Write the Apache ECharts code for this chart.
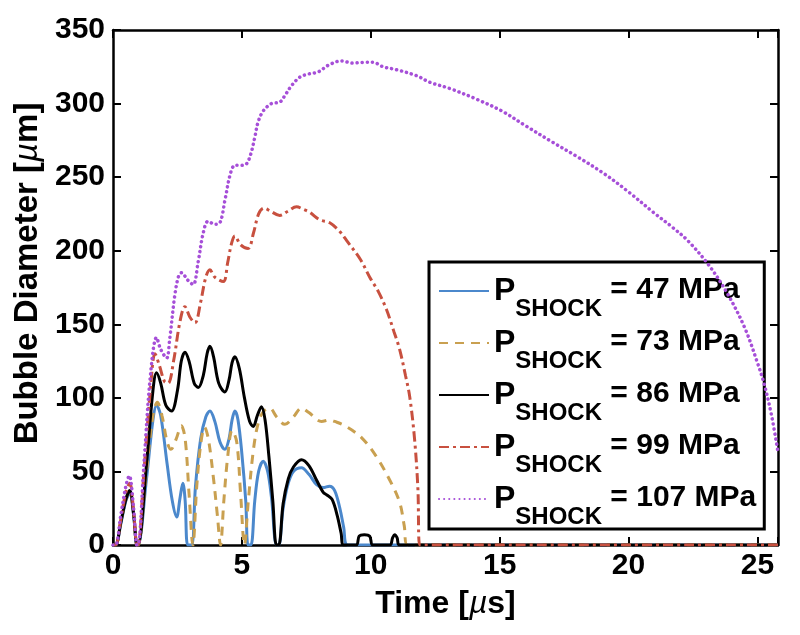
<!DOCTYPE html>
<html><head><meta charset="utf-8">
<script src="https://cdn.jsdelivr.net/npm/echarts@6/dist/echarts.min.js"></script>
<style>html,body{margin:0;padding:0;background:#fff}#c{width:800px;height:635px}</style>
</head><body><div id="c"></div>
<script>
// ---- data ----
const xTicks = [0, 5, 10, 15, 20, 25];
const yTicks = [0, 50, 100, 150, 200, 250, 300, 350];
const pressures = ['47', '73', '86', '99', '107'];

const t47 = [0,0.1,0.3,0.5,0.65,0.8,0.93,0.97,1.3,1.55,1.69,1.85,2.1,2.3,2.47,2.6,2.71,2.8,2.9,3.05,3.2,3.4,3.6,3.76,3.95,4.15,4.34,4.5,4.62,4.73,4.85,5.0,5.15,5.24,5.35,5.5,5.65,5.83,6.0,6.15,6.34,6.43,6.6,6.8,7.0,7.31,7.6,7.9,8.15,8.4,8.6,8.8,8.95,9.1,25.8];
const d47 = [0,0,14,30,35,20,0,0,45,85,95,88,55,30,19,32,42,30,0,0,40,72,87,91,84,70,65,72,85,91,85,62,30,0,0,30,50,57,50,32,0,0,25,42,50,52.5,48,41,39,40,37,25,12,0,0];

const t73 = [0,0.1,0.3,0.5,0.65,0.8,0.93,0.97,1.3,1.55,1.72,1.9,2.1,2.25,2.45,2.65,2.8,2.95,3.1,3.25,3.4,3.55,3.7,3.9,4.05,4.17,4.3,4.45,4.62,4.8,4.95,5.1,5.25,5.45,5.65,5.85,6.08,6.35,6.67,7.0,7.31,7.6,8.09,8.4,8.6,9.0,9.64,10.22,10.74,11.12,11.3,11.42,25.8];
const d73 = [0,0,15,31,37,21,0,0,50,88,97,88,70,65,72,81,72,35,0,40,68,80,72,45,20,0,30,60,78,70,35,0,30,65,84,91,93,87,82,87,93,90,84,85,84,81,73,60,44,29,13,0,0];

const t86 = [0,0.1,0.3,0.5,0.65,0.8,0.93,0.97,1.3,1.55,1.69,1.85,2.05,2.27,2.5,2.65,2.79,2.95,3.15,3.31,3.5,3.65,3.76,3.9,4.1,4.34,4.5,4.62,4.73,4.9,5.1,5.3,5.44,5.6,5.76,5.9,6.05,6.2,6.34,6.43,6.6,6.8,7.0,7.31,7.6,7.9,8.15,8.3,8.5,8.7,8.85,8.95,9.44,9.55,9.75,9.96,10.08,10.74,10.85,10.93,11.02,11.12,25.8];
const d86 = [0,0,15,31,37,21,0,0,55,105,117,110,95,91,105,125,131,125,110,107,115,130,135,128,110,104,112,124,128,120,100,84,80.5,88,94,85,60,30,0,0,28,45,53,58,54,44,36,34,31,20,8,0,0,6,7,6,0,0,5,7,5,0,0];

const t99 = [0,0.1,0.3,0.5,0.65,0.8,0.93,0.97,1.2,1.45,1.63,1.8,2.0,2.14,2.35,2.6,2.79,2.98,3.18,3.4,3.6,3.76,3.95,4.28,4.45,4.6,4.73,4.95,5.24,5.45,5.65,5.85,6.1,6.47,6.8,7.12,7.4,7.64,8.02,8.41,8.8,9.06,9.6,9.96,10.3,10.61,10.9,11.12,11.35,11.51,11.7,11.83,11.9,25.8];
const d99 = [0,0,17,36,42,23,0,0,50,105,130,122,111,110,125,152,162,155,151,165,182,187,182,179,192,205,210,204,201.5,212,225,229,227,224,227,229.8,228,226,221,219,213,207,194,182,172,160,145,133,115,101,72,38,0,0];

const t107 = [0,0.1,0.3,0.5,0.63,0.8,0.93,0.97,1.2,1.45,1.69,1.85,2.08,2.2,2.4,2.55,2.66,2.9,3.11,3.3,3.5,3.69,3.95,4.15,4.35,4.55,4.73,5.0,5.18,5.35,5.5,5.63,5.83,6.15,6.47,6.67,6.92,7.25,7.57,7.96,8.35,8.86,9.31,9.7,10.09,10.48,11.0,11.77,12.29,13.1,14.1,15.08,16.0,17.03,18.0,19.0,20.0,20.97,21.7,22.29,23.08,23.8,24.5,25.0,25.27,25.55,25.8];
const d107 = [0,0,20,40,47,25,0,0,55,115,141,133,127,140,170,183,185,180,177,192,212,220,218,219,235,252,258,258,259,266,277,287.5,295,300,301,305.5,312,318,320,321.5,326,329,327.5,328,328,325,323,319,314.5,310,303,295,285,274,264,253,240,226,216,207,191,172,148,124,109,88,63];

const xMin = 0, xMax = 25.8, yMin = 0, yMax = 350;

// ---- chart ----
const FONT = 'Liberation Sans, Arial, sans-serif';
function pairs(t, d) { return t.map((v, i) => [v, d[i]]); }
const defs = [
  { t: t47, d: d47, color: '#4b88cc', dash: 'solid', cap: 'butt' },
  { t: t73, d: d73, color: '#c9a050', dash: [9, 7], cap: 'butt' },
  { t: t86, d: d86, color: '#000000', dash: 'solid', cap: 'butt' },
  { t: t99, d: d99, color: '#c8503f', dash: [10, 4, 3, 4], cap: 'butt' },
  { t: t107, d: d107, color: '#a64fd8', dash: [0.1, 5], cap: 'round' }
];
const names = pressures.map(p => 'P' + p);
const series = defs.map((s, i) => ({
  name: names[i],
  type: 'line',
  data: pairs(s.t, s.d),
  showSymbol: false,
  symbol: 'none',
  smooth: 0.35,
  clip: true,
  lineStyle: { color: s.color, width: i === 4 ? 3.5 : 3, type: s.dash, cap: s.cap },
  itemStyle: { color: s.color },
  z: 2 + i
}));

const axisLineStyle = { color: '#000', width: 2.5 };
const option = {
  animation: false,
  backgroundColor: '#fff',
  grid: { left: 113, right: 22, top: 30, bottom: 90, containLabel: false },
  xAxis: [
    {
      type: 'value', min: xMin, max: xMax, interval: 5,
      axisLine: { show: true, onZero: false, lineStyle: axisLineStyle },
      axisTick: { show: true, inside: true, length: 8, lineStyle: { color: '#000', width: 2 } },
      splitLine: { show: false },
      axisLabel: {
        color: '#000', fontFamily: FONT, fontWeight: 'bold', fontSize: 30, margin: 6,
        formatter: v => (xTicks.indexOf(v) >= 0 ? String(v) : '')
      },
      name: '{n|Time [}{i|µ}{n|s]}',
      nameLocation: 'middle', nameGap: 43,
      nameTextStyle: {
        rich: {
          n: { fontFamily: FONT, fontSize: 32, fontWeight: 'bold', color: '#000' },
          i: { fontFamily: FONT, fontSize: 32, fontStyle: 'italic', color: '#000' }
        }
      }
    },
    {
      type: 'value', min: xMin, max: xMax, interval: 5, position: 'top',
      axisLine: { show: true, onZero: false, lineStyle: axisLineStyle },
      axisTick: { show: true, inside: true, length: 8, lineStyle: { color: '#000', width: 2 } },
      axisLabel: { show: false }, splitLine: { show: false }
    }
  ],
  yAxis: [
    {
      type: 'value', min: yMin, max: yMax, interval: 50,
      axisLine: { show: true, onZero: false, lineStyle: axisLineStyle },
      axisTick: { show: true, inside: true, length: 8, lineStyle: { color: '#000', width: 2 } },
      splitLine: { show: false },
      axisLabel: {
        color: '#000', fontFamily: FONT, fontWeight: 'bold', fontSize: 30, margin: 8,
        formatter: v => (yTicks.indexOf(v) >= 0 ? String(v) : '')
      },
      name: '{n|Bubble Diameter [}{i|µ}{n|m]}',
      nameLocation: 'middle', nameGap: 66, nameRotate: 90,
      nameTextStyle: {
        padding: [0, 0, 0, 28],
        rich: {
          n: { fontFamily: FONT, fontSize: 33, fontWeight: 'bold', color: '#000' },
          i: { fontFamily: FONT, fontSize: 33, fontStyle: 'italic', color: '#000' }
        }
      }
    },
    {
      type: 'value', min: yMin, max: yMax, interval: 50, position: 'right',
      axisLine: { show: true, onZero: false, lineStyle: axisLineStyle },
      axisTick: { show: true, inside: true, length: 8, lineStyle: { color: '#000', width: 2 } },
      axisLabel: { show: false }, splitLine: { show: false }
    }
  ],
  legend: {
    orient: 'vertical',
    left: 429, top: 262,
    padding: [13, 8, 0, 9],
    itemGap: 6,
    itemWidth: 50, itemHeight: 14,
    borderColor: '#000', borderWidth: 3, backgroundColor: '#fff',
    selectedMode: false,
    itemStyle: { opacity: 0, borderWidth: 0 },
    data: names,
    formatter: function (name) {
      const p = name.slice(1);
      return '{p|P}{s|SHOCK}{e| = ' + p + ' MPa}';
    },
    textStyle: {
      color: '#000',
      rich: {
        p: { fontFamily: FONT, fontWeight: 'bold', fontSize: 32, lineHeight: 32, verticalAlign: 'top', color: '#000' },
        s: { fontFamily: FONT, fontWeight: 'bold', fontSize: 24, lineHeight: 24, verticalAlign: 'top', padding: [22, 0, 0, 0], color: '#000' },
        e: { fontFamily: FONT, fontWeight: 'bold', fontSize: 30, lineHeight: 32, verticalAlign: 'top', color: '#000' }
      }
    }
  },
  series: series
};
const chart = echarts.init(document.getElementById('c'));
chart.setOption(option);
</script>
</body></html>
